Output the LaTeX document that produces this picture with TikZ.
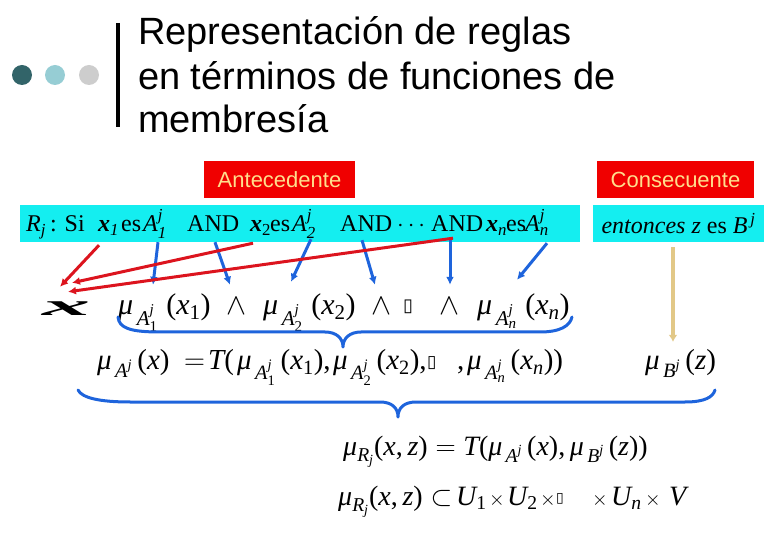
\RequirePackage{fix-cm}
\documentclass[tikz,border=0pt]{standalone}
\usepackage{amsmath}
\usepackage{graphicx}
\usepackage{fontspec}
\setmainfont{Liberation Serif}
\newfontfamily\arialf{Liberation Sans}
\newfontfamily\dejavuf{DejaVu Sans}
\usetikzlibrary{arrows.meta}
\definecolor{tealdark}{RGB}{50,100,105}
\definecolor{tealmid}{RGB}{150,205,212}
\definecolor{greydot}{RGB}{205,205,205}
\definecolor{cyanbar}{RGB}{20,238,240}
\definecolor{redbox}{RGB}{240,0,0}
\definecolor{labtext}{RGB}{255,222,140}
\definecolor{arrblue}{RGB}{30,100,220}
\definecolor{arrred}{RGB}{220,20,30}
\definecolor{arrtan}{RGB}{226,200,135}
\newcommand\myi[1]{\textit{#1}}
\newcommand\myr[1]{\text{#1}}
\newcommand\muAj[1]{\myi{μ}_{\,\myi{A}^{\myi{j}}_{#1}}}
\begin{document}
\begin{tikzpicture}[x=1pt,y=-1pt,
  titlefont/.style={font=\arialf\fontsize{38}{40}\selectfont, anchor=base west, inner sep=0},
  lab/.style={fill=redbox, text=labtext, font=\arialf\fontsize{22}{24}\selectfont, minimum height=37pt, inner sep=0},
  rowone/.style={font=\fontsize{24}{24}\selectfont, inner sep=0, anchor=base west, text height=17pt, text depth=10pt},
  rowtwo/.style={font=\fontsize{30}{30}\selectfont, inner sep=0, anchor=base west, text height=28pt, text depth=8pt},
  rowthree/.style={font=\fontsize{29}{29}\selectfont, inner sep=0, anchor=base west, text height=28pt, text depth=8pt},
  rowfour/.style={font=\fontsize{28}{28}\selectfont, inner sep=0, anchor=base west},
  timesop/.style={font=\fontsize{20}{20}\selectfont, inner sep=0, anchor=base},
  bluearr/.style={draw=arrblue, line width=3pt, -{Latex[length=8pt,width=8pt]}},
  redarr/.style={draw=arrred, line width=3pt, -{Latex[length=8pt,width=8pt]}},
  tanarr/.style={draw=arrtan, line width=4pt, -{Latex[length=7pt,width=9pt]}},
  bracepath/.style={draw=arrblue, line width=3pt, line join=round, line cap=round}]
\useasboundingbox (0,0) rectangle (780,540);
% title decoration
\fill[tealdark] (22,75) circle[radius=10pt];
\fill[tealmid] (55,75) circle[radius=10pt];
\fill[greydot] (89,75) circle[radius=10pt];
\draw[line width=4pt] (118,23) -- (118,127);
\node[titlefont] (ti1) at (138,45) {Representación de reglas};
\node[titlefont] (ti2) at (138,90) {en términos de funciones de};
\node[titlefont] (ti3) at (138,133) {membresía};
% labels
\node[lab, minimum width=151pt] (ante) at (279.5,179.5) {Antecedente};
\node[lab, minimum width=157pt] (cons) at (675.5,179.5) {Consecuente};
% cyan bars
\node[fill=cyanbar, minimum width=560pt, minimum height=37pt, inner sep=0] (bar) at (300,223.5) {};
\node[fill=cyanbar, minimum width=171pt, minimum height=37pt, inner sep=0, font=\fontsize{24}{24}\selectfont] (ent) at (678.5,223.5) {\textit{entonces z} es $\myi{B}^{\,\myi{j}}$};
% row 1
\node[rowone] (rj) at (26,232) {$\myi{R}_{\myi{j}}$\,: Si};
\node[rowone] (x1) at (98,232) {$\textbf{\textit{x}}_{\myi{1}}$};
\node[rowone] (es1) at (121,232) {es};
\node[rowone] (A1) at (143,232) {$\myi{A}_{\myi{1}}^{\myi{j}}$};
\node[rowone] (and1) at (187,232) {AND};
\node[rowone] (x2) at (250,232) {$\textbf{\textit{x}}_{\myr{2}}$};
\node[rowone] (es2) at (270,232) {es};
\node[rowone] (A2) at (292,232) {$\myi{A}_{\myi{2}}^{\myi{j}}$};
\node[rowone] (and2) at (340,232) {AND};
\node[rowone] (dots) at (397,232) {$\cdots$};
\node[rowone] (and3) at (431,232) {AND};
\node[rowone] (xn) at (486,232) {$\textbf{\textit{x}}_{\myi{n}}$};
\node[rowone] (esn) at (506,232) {es};
\node[rowone] (An) at (525,232) {$\myi{A}_{\myi{n}}^{\myi{j}}$};
% row 2
\node[rowtwo] (xg) at (42,316) {\scalebox{3.2}[1]{\textbf{\textit{x}}}};
\node[rowtwo] (m1) at (118,315) {$\muAj{\myr{1}}\;\myr{(}\myi{x}_{\myr{1}}\myr{)}$};
\node[rowtwo] (w1) at (226,315) {$\wedge$};
\node[rowtwo] (m2) at (263,315) {$\muAj{\myr{2}}\;\myr{(}\myi{x}_{\myr{2}}\myr{)}$};
\node[rowtwo] (w2) at (371,315) {$\wedge$};
\node[rowtwo, font=\dejavuf\fontsize{18}{18}\selectfont] (bx) at (403,312) {▯};
\node[rowtwo] (w3) at (439,315) {$\wedge$};
\node[rowtwo] (mn) at (477,315) {$\muAj{\myi{n}}\;\myr{(}\myi{x}_{\myi{n}}\myr{)}$};
% row 3
\node[rowthree] (e1) at (97,370) {$\myi{μ}_{\,\myi{A}^{\myi{j}}}\,\myr{(}\myi{x}\myr{)}$};
\node[rowthree] (e2) at (184,370) {$=$};
\node[rowthree] (e3) at (208,370) {$\myi{T}\myr{(}$};
\node[rowthree] (e4) at (237,370) {$\muAj{\myr{1}}\,\myr{(}\myi{x}_{\myr{1}}\myr{),}$};
\node[rowthree] (e5) at (333,370) {$\muAj{\myr{2}}\,\myr{(}\myi{x}_{\myr{2}}\myr{),}$};
\node[rowthree, font=\dejavuf\fontsize{17}{17}\selectfont] (e6) at (427,367) {▯};
\node[rowthree] (e7) at (457,370) {,};
\node[rowthree] (e8) at (467,370) {$\muAj{\myi{n}}\,\myr{(}\myi{x}_{\myi{n}}\myr{))}$};
\node[rowthree] (muB) at (645,370) {$\myi{μ}_{\,\myi{B}^{\myi{j}}}\,\myr{(}\myi{z}\myr{)}$};
% row 4
\node[rowfour] (eqR) at (343,455) {$\myi{μ}_{\myi{R}_{\myi{j}}}\myr{(}\myi{x}\myr{,}\,\myi{z}\myr{)} = \myi{T}\myr{(}\myi{μ}_{\,\myi{A}^{\myi{j}}}\,\myr{(}\myi{x}\myr{),}\,\myi{μ}_{\,\myi{B}^{\myi{j}}}\,\myr{(}\myi{z}\myr{))}$};
% row 5
\node[rowfour] (u0) at (338,505) {$\myi{μ}_{\myi{R}_{\myi{j}}}\myr{(}\myi{x}\myr{,}\,\myi{z}\myr{)}\subset$};
\node[rowfour] (u1) at (456,505) {$\myi{U}_{\myr{1}}$};
\node[timesop] (u2) at (497,505) {$\times$};
\node[rowfour] (u3) at (507,505) {$\myi{U}_{\myr{2}}$};
\node[timesop] (u4) at (548,505) {$\times$};
\node[rowfour, font=\dejavuf\fontsize{14}{14}\selectfont] (u5) at (556,502) {▯};
\node[timesop] (u6) at (600,505) {$\times$};
\node[rowfour] (u7) at (611,505) {$\myi{U}_{\myi{n}}$};
\node[timesop] (u8) at (653,505) {$\times$};
\node[rowfour] (u9) at (669,505) {$\myi{V}$};
% braces
\draw[bracepath] (118,317) .. controls (119,328) and (130,332) .. (160,332) -- (325,332)
  .. controls (336,332) and (343,338) .. (343,347)
  .. controls (343,338) and (350,332) .. (361,332) -- (540,332)
  .. controls (560,332) and (570,326) .. (572,317);
\draw[bracepath] (78,390) .. controls (82,398) and (100,402) .. (130,402) -- (380,402)
  .. controls (392,402) and (398,408) .. (398,417)
  .. controls (398,408) and (404,402) .. (416,402) -- (685,402)
  .. controls (705,402) and (713,397) .. (715,390);
% blue arrows
\draw[bluearr] ([xshift=15pt]A1.south west) -- ([xshift=35pt,yshift=2pt]m1.north west);
\draw[bluearr] ([xshift=28pt]and1.south west) -- ([xshift=4pt,yshift=2pt]w1.north west);
\draw[bluearr] ([xshift=19pt,yshift=3pt]A2.south west) -- ([xshift=28pt,yshift=5pt]m2.north west);
\draw[bluearr] ([xshift=22pt,yshift=2pt]and2.south west) -- ([xshift=4pt,yshift=2pt]w2.north west);
\draw[bluearr] ([xshift=19pt,yshift=2pt]and3.south west) -- ([xshift=11pt,yshift=2pt]w3.north west);
\draw[bluearr] ([xshift=22pt,yshift=-1pt]An.south west) -- ([xshift=40pt,yshift=7pt]mn.north west);
% red arrows
\draw[redarr] ([xshift=1pt,yshift=-3pt]x1.south west) -- ([xshift=18pt,yshift=1pt]xg.north west);
\draw[redarr] ([xshift=3pt,yshift=-1pt]x2.south west) -- ([xshift=30pt,yshift=5pt]xg.north west);
\draw[redarr] ([xshift=22pt,yshift=4pt]and3.south west) -- ([xshift=26pt,yshift=-4pt]xg.north west);
% tan arrow
\draw[tanarr] ([xshift=-5.5pt,yshift=-5pt]ent.south) -- ([xshift=28pt]muB.north west);
\end{tikzpicture}
\end{document}
